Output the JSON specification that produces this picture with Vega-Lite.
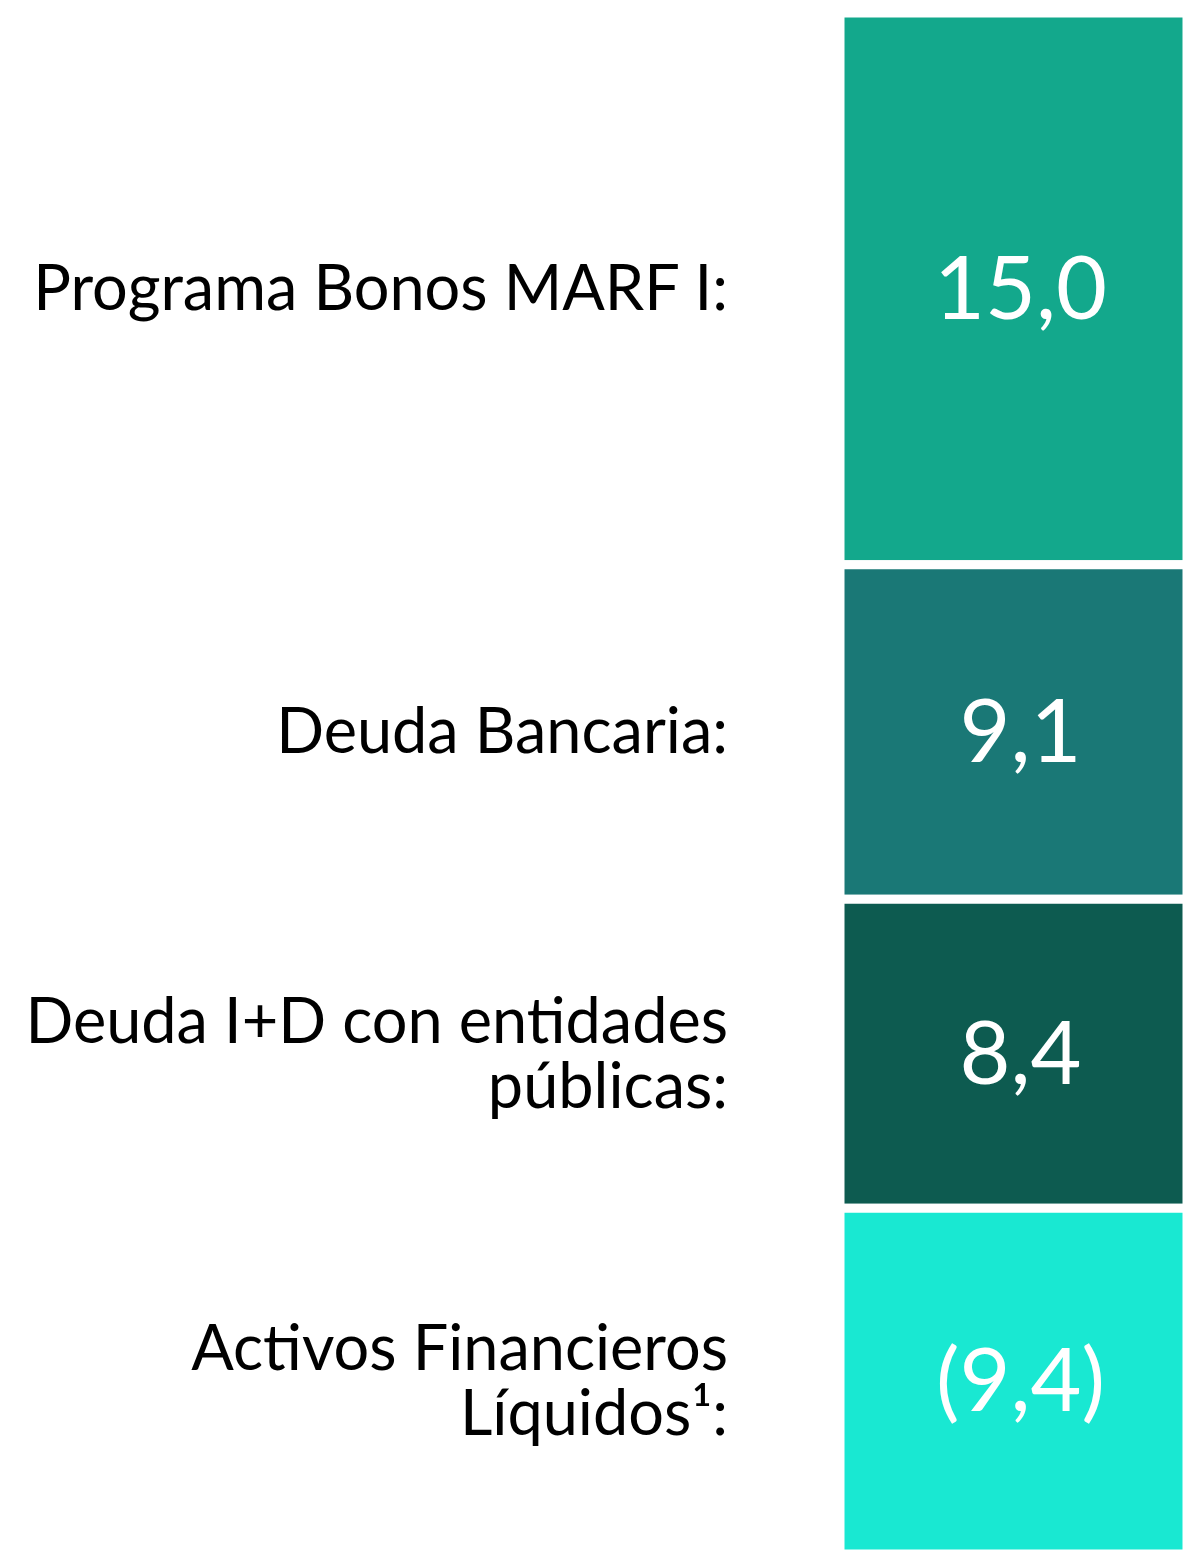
{
  "$schema": "https://vega.github.io/schema/vega-lite/v6.json",
  "width": 347,
  "height": 1541,
  "autosize": {"type": "none"},
  "padding": {"left": 840, "top": 13, "right": 0, "bottom": 0},
  "background": "white",
  "config": {"view": {"stroke": null}},
  "data": {
    "values": [
      {"order": 1, "label": "Programa Bonos MARF I:", "amount": 15.0, "text": "15,0"},
      {"order": 2, "label": "Deuda Bancaria:", "amount": 9.1, "text": "9,1"},
      {"order": 3, "label": "Deuda I+D con entidades\npúblicas:", "amount": 8.4, "text": "8,4"},
      {"order": 4, "label": "Activos Financieros\nLíquidos¹:", "amount": 9.4, "text": "(9,4)"}
    ]
  },
  "transform": [
    {"stack": "amount", "groupby": [], "sort": [{"field": "order"}], "as": ["y0", "y1"]}
  ],
  "layer": [
    {
      "mark": {"type": "rect", "stroke": "white", "strokeWidth": 9},
      "encoding": {
        "y": {"field": "y0", "type": "quantitative", "axis": null,
              "scale": {"reverse": true, "nice": false, "zero": true, "domain": [0, 41.9]}},
        "y2": {"field": "y1"},
        "color": {"field": "label", "type": "nominal", "legend": null,
                  "scale": {"domain": ["Programa Bonos MARF I:", "Deuda Bancaria:", "Deuda I+D con entidades\npúblicas:", "Activos Financieros\nLíquidos¹:"],
                            "range": ["#13A88C", "#1A7876", "#0D5B50", "#19E8D2"]}}
      }
    },
    {
      "transform": [
        {"fold": ["y0", "y1"], "as": ["edge", "pos"]},
        {"aggregate": [{"op": "mean", "field": "pos", "as": "mid"}], "groupby": ["label", "text", "order"]}
      ],
      "layer": [
        {
          "mark": {"type": "text", "color": "white", "font": "Lato", "fontSize": 88, "baseline": "middle", "align": "center", "dx": 7, "dy": 4},
          "encoding": {
            "y": {"field": "mid", "type": "quantitative"},
            "text": {"field": "text"}
          }
        },
        {
          "transform": [{"filter": {"field": "order", "oneOf": [1, 2]}}],
          "mark": {"type": "text", "color": "black", "font": "Lato", "fontSize": 63, "baseline": "middle", "align": "right", "dx": -112, "dy": 2},
          "encoding": {
            "y": {"field": "mid", "type": "quantitative"},
            "x": {"value": 0},
            "text": {"field": "label"}
          }
        },
        {
          "transform": [{"filter": {"field": "order", "oneOf": [3, 4]}}],
          "mark": {"type": "text", "color": "black", "font": "Lato", "fontSize": 63, "baseline": "middle", "align": "right", "lineBreak": "\n", "lineHeight": 65, "dx": -112, "dy": -30},
          "encoding": {
            "y": {"field": "mid", "type": "quantitative"},
            "x": {"value": 0},
            "text": {"field": "label"}
          }
        }
      ]
    }
  ]
}
